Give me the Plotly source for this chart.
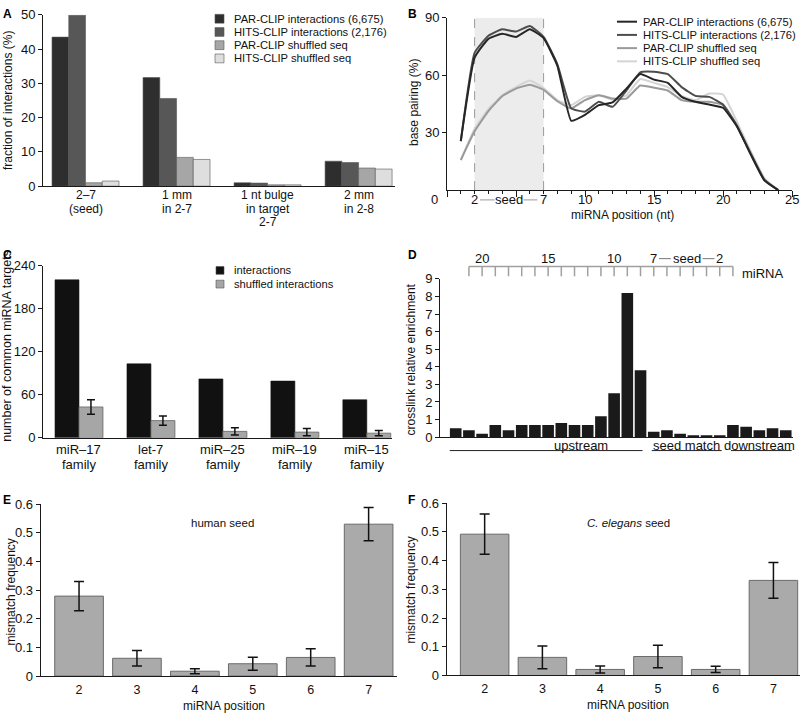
import plotly.graph_objects as go

# ================= DATA =================
# Panel A
a_categories = ["2–7<br>(seed)", "1 mm<br>in 2-7", "1 nt bulge<br>in target<br>2-7", "2 mm<br>in 2-8"]
a_series = ["PAR-CLIP interactions (6,675)", "HITS-CLIP interactions (2,176)",
            "PAR-CLIP shuffled seq", "HITS-CLIP shuffled seq"]
a_par_int = [43.5, 31.7, 1.0, 7.3]
a_hits_int = [49.9, 25.6, 0.9, 6.9]
a_par_shuf = [1.0, 8.4, 0.4, 5.3]
a_hits_shuf = [1.5, 7.8, 0.4, 5.0]
a_yticks = [0, 10, 20, 30, 40, 50]

# Panel B
b_positions = list(range(1, 25))
b_par_int = [25.6, 69.2, 79.0, 81.6, 80.0, 84.0, 79.4, 64.9, 36.2, 39.3, 44.4, 45.8,
             53.0, 60.6, 57.7, 56.0, 48.7, 46.1, 44.7, 43.0, 33.3, 18.8, 5.1, 0.0]
b_hits_int = [25.6, 71.7, 80.6, 84.0, 82.8, 85.7, 80.0, 65.7, 42.7, 41.0, 46.1, 43.5,
              52.0, 61.5, 61.8, 60.6, 53.8, 49.2, 48.7, 44.7, 33.8, 19.0, 5.3, 0.0]
b_par_shuf = [15.7, 30.7, 41.3, 49.0, 53.0, 55.0, 52.4, 46.4, 42.7, 47.0, 49.5, 47.8,
              47.8, 54.6, 53.5, 52.0, 47.0, 46.1, 46.1, 44.4, 33.8, 19.5, 5.5, 0.0]
b_hits_shuf = [15.7, 32.0, 42.3, 49.5, 53.8, 57.2, 53.3, 47.0, 44.4, 48.7, 49.5, 47.3,
               49.5, 58.0, 56.0, 53.8, 49.2, 47.0, 50.4, 49.9, 35.9, 20.5, 6.3, 0.0]
b_yticks = [30, 60, 90]
b_xticks = [10, 15, 20, 25]
b_seed_start, b_seed_end = 2, 7

# Panel C
c_families = ["miR–17<br>family", "let-7<br>family", "miR–25<br>family", "miR–19<br>family", "miR–15<br>family"]
c_series = ["interactions", "shuffled interactions"]
c_interactions = [220, 103, 82, 79, 53]
c_shuffled = [43, 24, 9, 8, 6.5]
c_shuffled_err = [10, 6.5, 5, 5, 3.7]
c_yticks = [0, 60, 120, 180, 240]

# Panel D
d_region_names = ["upstream", "seed match", "downstream"]
d_upstream = [0.5, 0.39, 0.2, 0.69, 0.39, 0.69, 0.69, 0.69, 0.8, 0.69, 0.69, 1.19, 2.5, 8.2, 3.8]
d_seed_match = [0.3, 0.39, 0.2, 0.11, 0.11, 0.11]
d_downstream = [0.69, 0.59, 0.39, 0.5, 0.39]
d_ruler_positions = list(range(21, 0, -1))
d_ruler_labels = [20, 15, 10]
d_seed_first, d_seed_last = 7, 2
d_yticks = list(range(0, 10))

# Panel E
e_positions = [2, 3, 4, 5, 6, 7]
e_values = [0.279, 0.062, 0.017, 0.043, 0.065, 0.530]
e_errors = [0.051, 0.027, 0.0085, 0.023, 0.030, 0.058]

# Panel F
f_positions = [2, 3, 4, 5, 6, 7]
f_values = [0.492, 0.063, 0.021, 0.066, 0.021, 0.331]
f_errors = [0.070, 0.040, 0.012, 0.039, 0.011, 0.062]
ef_yticks = [0, 0.1, 0.2, 0.3, 0.4, 0.5, 0.6]

# ================= STYLE =================
FONT = "Liberation Sans, Arial, Helvetica, sans-serif"
TICK = 13
LEG = 11.2
TITLE = 12
AXC = "#1a1a1a"
W, H = 800, 720


def X(px):
    return px / W


def Y(py):
    return 1 - py / H


fig = go.Figure()
shapes = []
annotations = []


def ann(text, x, y, size=12, xanchor="center", yanchor="middle", angle=0, color="#111",
        xref="paper", yref="paper"):
    annotations.append(dict(text=text, x=x, y=y, xref=xref, yref=yref, showarrow=False,
                            xanchor=xanchor, yanchor=yanchor, textangle=angle,
                            font=dict(size=size, color=color, family=FONT)))


# ---------- Panel A ----------
a_colors = ["#2e2e2e", "#575757", "#a6a6a6", "#dedede"]
a_vals = [a_par_int, a_hits_int, a_par_shuf, a_hits_shuf]
a_bw = 0.184
a_x = list(range(len(a_categories)))
for k, (name, vals, col) in enumerate(zip(a_series, a_vals, a_colors)):
    fig.add_trace(go.Bar(x=a_x, y=vals, name=name, width=a_bw,
                         offset=-2 * a_bw + k * a_bw, marker=dict(color=col, line=dict(color="#555", width=0.6)),
                         xaxis="x", yaxis="y", showlegend=False))
for k, (name, col) in enumerate(zip(a_series, a_colors)):
    ry = 12 + 13.5 * k
    shapes.append(dict(type="rect", xref="paper", yref="paper", x0=X(215), x1=X(224),
                       y0=Y(ry + 4.5), y1=Y(ry - 4.5), fillcolor=col, line=dict(color="#555", width=0.6)))
    ann(name, X(232), Y(ry), size=LEG, xanchor="left")
# category labels, one line at a time (tight line spacing as in the original)
for xi, cat in zip(a_x, a_categories):
    for li, line in enumerate(cat.split("<br>")):
        ann(line, xi, Y(192 + 14 * li), size=12, xref="x")

# ---------- Panel B ----------
b_colors = ["#262626", "#4d4d4d", "#9a9a9a", "#d4d4d4"]
b_vals = [b_par_int, b_hits_int, b_par_shuf, b_hits_shuf]
shapes.append(dict(type="rect", xref="x2", yref="y2", x0=b_seed_start, x1=b_seed_end, y0=0, y1=90,
                   fillcolor="#ececec", line=dict(width=0), layer="below"))
for xv in (b_seed_start, b_seed_end):
    shapes.append(dict(type="line", xref="x2", yref="y2", x0=xv, x1=xv, y0=0, y1=90,
                       line=dict(color="#9a9a9a", width=1, dash="dash"), layer="below"))
for name, vals, col in reversed(list(zip(a_series, b_vals, b_colors))):
    fig.add_trace(go.Scatter(x=b_positions, y=vals, mode="lines", name=name,
                             line=dict(color=col, width=2, shape="spline", smoothing=0.4),
                             xaxis="x2", yaxis="y2", showlegend=False))
for k, (name, col) in enumerate(zip(a_series, b_colors)):
    ry = 15 + 13.5 * k
    shapes.append(dict(type="line", xref="paper", yref="paper", x0=X(617), x1=X(637),
                       y0=Y(ry), y1=Y(ry), line=dict(color=col, width=2)))
    ann(name, X(641), Y(ry), size=LEG, xanchor="left")
# x labels of B (numbers and the seed bracket)
for v in b_xticks:
    ann(str(v), v, Y(197), size=TICK, xref="x2")
ann(str(b_seed_start), b_seed_start, Y(197), size=TICK, xref="x2")
ann(str(b_seed_end), b_seed_end, Y(197), size=TICK, xref="x2")
ann("seed", (b_seed_start + b_seed_end) / 2, Y(197), size=TICK, xref="x2")
for x0, x1 in ((b_seed_start + 0.4, 3.45), (5.55, b_seed_end - 0.45)):
    shapes.append(dict(type="line", xref="x2", yref="paper", x0=x0, x1=x1, y0=Y(197), y1=Y(197),
                       line=dict(color="#999", width=1)))
ann("0", X(434), Y(197), size=TICK)

# ---------- Panel C ----------
c_bw = 0.333
c_x = list(range(len(c_families)))
fig.add_trace(go.Bar(x=c_x, y=c_interactions, name=c_series[0], width=c_bw, offset=-c_bw,
                     marker=dict(color="#111111", line=dict(color="#111", width=0.6)),
                     xaxis="x3", yaxis="y3", showlegend=False))
fig.add_trace(go.Bar(x=c_x, y=c_shuffled, name=c_series[1], width=c_bw, offset=0,
                     marker=dict(color="#a6a6a6", line=dict(color="#666", width=0.8)),
                     error_y=dict(type="data", array=c_shuffled_err, color="#111", thickness=1.5, width=4),
                     xaxis="x3", yaxis="y3", showlegend=False))
for k, (name, col) in enumerate(zip(c_series, ["#111111", "#a6a6a6"])):
    ry = 269 + 14 * k
    shapes.append(dict(type="rect", xref="paper", yref="paper", x0=X(216), x1=X(224),
                       y0=Y(ry + 4), y1=Y(ry - 4), fillcolor=col, line=dict(color="#555", width=0.6)))
    ann(name, X(232), Y(ry), size=LEG, xanchor="left")
for xi, cat in zip(c_x, c_families):
    for li, line in enumerate(cat.split("<br>")):
        ann(line, xi, Y(452 + 15.5 * li), size=TICK, xref="x3")

# ---------- Panel D ----------
d_values = d_upstream + d_seed_match + d_downstream
d_x = list(range(len(d_values)))
fig.add_trace(go.Bar(x=d_x, y=d_values, width=0.88, marker=dict(color="#1a1a1a", line=dict(width=0)),
                     xaxis="x4", yaxis="y4", showlegend=False))
n_up, n_seed, n_down = len(d_upstream), len(d_seed_match), len(d_downstream)


def d_index(p):
    return n_up + d_seed_first - p


ruler_y, tick_y, lab_y = 265, 275, 257
shapes.append(dict(type="line", xref="x4", yref="paper", x0=d_index(d_ruler_positions[0]),
                   x1=d_index(d_ruler_positions[-1]), y0=Y(ruler_y), y1=Y(ruler_y),
                   line=dict(color="#a0a0a0", width=1.5)))
for p in d_ruler_positions:
    shapes.append(dict(type="line", xref="x4", yref="paper", x0=d_index(p), x1=d_index(p),
                       y0=Y(ruler_y), y1=Y(tick_y), line=dict(color="#a0a0a0", width=1.5)))
for p in d_ruler_labels:
    ann(str(p), d_index(p), Y(lab_y), size=TICK, xref="x4")
ann(str(d_seed_first), d_index(d_seed_first), Y(lab_y), size=TICK, xref="x4")
ann(str(d_seed_last), d_index(d_seed_last), Y(lab_y), size=TICK, xref="x4")
mid = (d_index(d_seed_first) + d_index(d_seed_last)) / 2
ann("seed", mid, Y(lab_y), size=TICK, xref="x4")
for x0, x1 in ((d_index(d_seed_first) + 0.4, mid - 1.2), (mid + 1.2, d_index(d_seed_last) - 0.4)):
    shapes.append(dict(type="line", xref="x4", yref="paper", x0=x0, x1=x1, y0=Y(lab_y), y1=Y(lab_y),
                       line=dict(color="#777", width=1)))
ann("miRNA", X(740), Y(272), size=TICK, xanchor="left")
# region labels under the axis
bounds = [(0, n_up - 1), (n_up, n_up + n_seed - 1), (n_up + n_seed, n_up + n_seed + n_down - 1)]
label_x = [9.5, 17.45, 23.0]
for i, ((b0, b1), name) in enumerate(zip(bounds, d_region_names)):
    x0 = b0 - 0.45 + (0.3 if i > 0 else 0)
    x1 = b1 + 0.45 - (0.3 if i < 2 else 0)
    shapes.append(dict(type="line", xref="x4", yref="paper", x0=x0, x1=x1, y0=Y(453), y1=Y(453),
                       line=dict(color="#222", width=1)))
    ann(name, label_x[i], Y(447.5), size=TICK, xref="x4")

# ---------- Panels E, F ----------
for pos, vals, errs, xa, ya in ((e_positions, e_values, e_errors, "x5", "y5"),
                                 (f_positions, f_values, f_errors, "x6", "y6")):
    fig.add_trace(go.Bar(x=pos, y=vals, width=0.84,
                         marker=dict(color="#aaaaaa", line=dict(color="#6a6a6a", width=1)),
                         error_y=dict(type="data", array=errs, color="#111", thickness=1.5, width=5),
                         xaxis=xa, yaxis=ya, showlegend=False))
ann("human seed", X(222), Y(527), size=11.5)
ann("<i>C. elegans</i> seed", X(628), Y(527), size=11.5)

# ---------- Titles & letters ----------
ann("fraction of interactions (%)", X(8), Y(96), size=TITLE, angle=-90)
ann("base pairing (%)", X(414), Y(97), size=TITLE, angle=-90)
ann("miRNA position (nt)", X(622), Y(212), size=TITLE)
ann("number of common miRNA targets", X(7), Y(346), size=12.5, angle=-90)
ann("crosslink relative enrichment", X(410), Y(360), size=TITLE, angle=-90)
ann("mismatch frequency", X(11), Y(598), size=TITLE, angle=-90)
ann("mismatch frequency", X(411), Y(596), size=TITLE, angle=-90)
ann("miRNA position", X(224), Y(713.5), size=TITLE)
ann("miRNA position", X(628), Y(713), size=TITLE)
for letter, px, py in (("A", 1, 7), ("B", 406, 7), ("C", 1, 253), ("D", 406, 253), ("E", 1, 504), ("F", 406, 503)):
    ann("<b>%s</b>" % letter, X(px), Y(py), size=12, xanchor="left", color="#000")


def yax(domain, rng, tickvals, anchor, **kw):
    d = dict(domain=domain, range=rng, tickvals=tickvals, anchor=anchor, showline=True, linecolor=AXC,
             linewidth=1, ticks="outside", ticklen=4, tickcolor=AXC, showgrid=False, zeroline=False,
             tickfont=dict(size=TICK, color="#111", family=FONT))
    d.update(kw)
    return d


def xax(domain, rng, anchor, **kw):
    d = dict(domain=domain, range=rng, anchor=anchor, showline=True, linecolor=AXC, linewidth=1,
             showgrid=False, zeroline=False, ticks="", tickfont=dict(size=TICK, color="#111", family=FONT))
    d.update(kw)
    return d


ef_xfont = dict(size=12.5, color="#111", family=FONT)
fig.update_layout(
    width=W, height=H, margin=dict(l=0, r=0, t=0, b=0),
    paper_bgcolor="white", plot_bgcolor="white", barmode="overlay",
    font=dict(family=FONT, size=12, color="#111"), showlegend=False,
    # A
    xaxis=xax([X(43), X(395)], [-0.467, 3.4], "y", showticklabels=False),
    yaxis=yax([Y(183), Y(8)], [0, 50], a_yticks, "x"),
    # B
    xaxis2=xax([X(447), X(792)], [0, 25], "y2", tickvals=[0, 5] + b_xticks, showticklabels=False,
               ticks="outside", ticklen=6, tickcolor=AXC,
               minor=dict(tickvals=list(range(0, 26)), ticklen=3, ticks="outside", tickcolor=AXC)),
    yaxis2=yax([Y(187), Y(11)], [0, 90], b_yticks, "x2"),
    # C
    xaxis3=xax([X(43), X(392)], [-0.5, 4.35], "y3", showticklabels=False),
    yaxis3=yax([Y(440), Y(264)], [0, 240], c_yticks, "x3"),
    # D
    xaxis4=xax([X(440), X(793)], [-1.19, 25.55], "y4", showticklabels=False),
    yaxis4=yax([Y(439.3), Y(277.7)], [0, 9], d_yticks, "x4"),
    # E
    xaxis5=xax([X(40.7), X(397)], [1.338, 7.49], "y5", tickvals=e_positions, ticklabelstandoff=2,
               tickfont=ef_xfont),
    yaxis5=yax([Y(683.3), Y(507.7)], [0, 0.6], ef_yticks, "x5"),
    # F
    xaxis6=xax([X(446.7), X(800)], [1.343, 7.46], "y6", tickvals=f_positions, ticklabelstandoff=2,
               tickfont=ef_xfont),
    yaxis6=yax([Y(682.7), Y(506.7)], [0, 0.6], ef_yticks, "x6"),
    shapes=shapes, annotations=annotations,
)

fig.write_html("out.html", config={"displayModeBar": False},
               post_script="document.body.style.margin='0';document.body.style.overflow='hidden';")
